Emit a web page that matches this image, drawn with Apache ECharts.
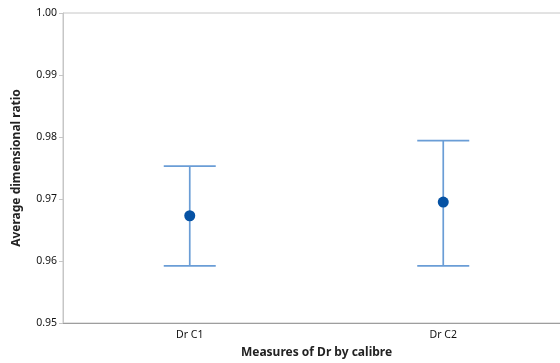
<!DOCTYPE html>
<html><head><meta charset="utf-8">
<script src="https://cdn.jsdelivr.net/npm/echarts@6/dist/echarts.min.js"></script>
<style>html,body{margin:0;padding:0;background:#fff}#c{width:560px;height:363px}</style>
</head><body><div id="c"></div>
<script>
const categories = ['Dr C1', 'Dr C2'];
const means = [0.9673, 0.9695];
const lower = [0.9592, 0.9592];
const upper = [0.9753, 0.9794];
const yTicks = [0.95, 0.96, 0.97, 0.98, 0.99, 1.00];

const FONT = '"Noto Sans", "Open Sans", sans-serif';
const chart = echarts.init(document.getElementById('c'));
chart.setOption({
  animation: false,
  grid: { left: 63, width: 507, top: 13, bottom: 40, show: true, borderColor: '#c6c6c6', borderWidth: 1,
          containLabel: false, outerBoundsMode: 'none' },
  xAxis: {
    type: 'category', data: categories,
    name: 'Measures of Dr by calibre', nameLocation: 'middle', nameGap: 24,
    nameTextStyle: { fontFamily: FONT, fontSize: 12, fontWeight: 'bold', color: '#222' },
    axisLine: { lineStyle: { color: '#9e9e9e', width: 1 } },
    axisTick: { alignWithLabel: true, length: 3, lineStyle: { color: '#cfcfcf' } },
    axisLabel: { fontFamily: FONT, fontSize: 10.5, color: '#111', margin: 7 },
    splitLine: { show: false }
  },
  yAxis: {
    type: 'value', min: yTicks[0], max: yTicks[yTicks.length - 1], interval: 0.01,
    name: 'Average dimensional ratio', nameLocation: 'middle', nameGap: 40, nameRotate: 90,
    nameTextStyle: { fontFamily: FONT, fontSize: 12, fontWeight: 'bold', color: '#222' },
    axisLine: { show: true, lineStyle: { color: '#c6c6c6', width: 1 } },
    axisTick: { show: true, length: 4, lineStyle: { color: '#c6c6c6' } },
    axisLabel: { fontFamily: FONT, fontSize: 10.5, color: '#111', margin: 6, formatter: v => v.toFixed(2) },
    splitLine: { show: false }
  },
  series: [
    {
      type: 'custom',
      data: categories.map((c, i) => [i, lower[i], upper[i]]),
      renderItem: function (params, api) {
        const x = api.value(0);
        const lo = api.coord([x, api.value(1)]);
        const hi = api.coord([x, api.value(2)]);
        const hw = 26;
        const st = { stroke: '#6a9dd6', lineWidth: 1.7 };
        return {
          type: 'group',
          children: [
            { type: 'line', shape: { x1: lo[0], y1: lo[1], x2: hi[0], y2: hi[1] }, style: st },
            { type: 'line', shape: { x1: lo[0] - hw, y1: lo[1], x2: lo[0] + hw, y2: lo[1] }, style: st },
            { type: 'line', shape: { x1: hi[0] - hw, y1: hi[1], x2: hi[0] + hw, y2: hi[1] }, style: st }
          ]
        };
      },
      z: 2
    },
    {
      type: 'scatter',
      data: means,
      symbol: 'circle', symbolSize: 11,
      itemStyle: { color: '#0652a4', opacity: 1 },
      z: 3
    }
  ]
});
</script></body></html>
